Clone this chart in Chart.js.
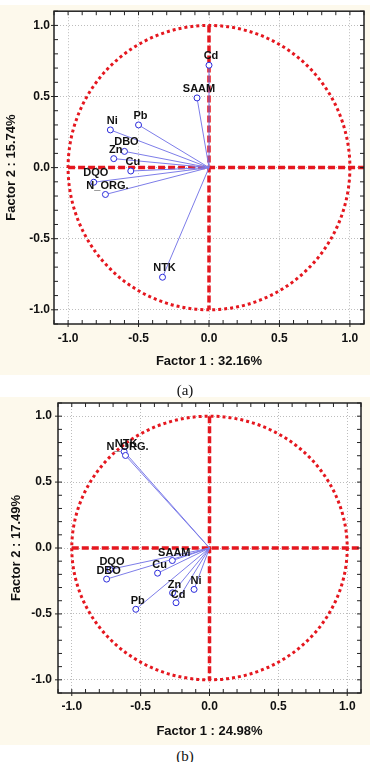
<!DOCTYPE html>
<html>
<head>
<meta charset="utf-8">
<script src="https://cdn.jsdelivr.net/npm/chart.js@4.4.1/dist/chart.umd.min.js"></script>
<style>
    html, body { margin: 0; padding: 0; background: #fff; }
    body { width: 370px; height: 762px; position: relative; overflow: hidden; }
    .panel { position: absolute; left: 0; width: 370px; background: #fdf9ec; }
    canvas { position: absolute; left: 0; }
    .caption {
        position: absolute; left: 0; width: 370px; text-align: center;
        font-family: "Liberation Serif", "Times New Roman", serif; font-size: 15px; color: #111;
    }
</style>
</head>
<body>
<div class="panel" style="top:5px;height:370px"></div>
<div class="panel" style="top:397px;height:348px"></div>
<canvas id="chartA" width="370" height="376" style="top:0"></canvas>
<canvas id="chartB" width="370" height="366" style="top:380px"></canvas>
<div class="caption" style="top:382px">(a)</div>
<div class="caption" style="top:748px">(b)</div>

<script>
// Factor loadings
const varsA = ['Cd', 'SAAM', 'Pb', 'Ni', 'DBO', 'Zn', 'Cu', 'DQO', 'N_ORG.', 'NTK'];
const f1A = [0.00, -0.085, -0.50, -0.70, -0.60, -0.676, -0.555, -0.818, -0.735, -0.33];
const f2A = [0.72, 0.49, 0.30, 0.265, 0.114, 0.063, -0.024, -0.103, -0.189, -0.771];

const varsB = ['NTK', 'N_ORG.', 'SAAM', 'Cu', 'DQO', 'DBO', 'Zn', 'Cd', 'Ni', 'Pb'];
const f1B = [-0.62, -0.61, -0.27, -0.377, -0.723, -0.747, -0.268, -0.243, -0.112, -0.535];
const f2B = [0.732, 0.702, -0.095, -0.191, -0.163, -0.236, -0.34, -0.415, -0.314, -0.465];

const tickValues = [-1.0, -0.5, 0.0, 0.5, 1.0];

const RED = '#e5171f';
const POINT_BLUE = '#2b2bdc';
const LINE_BLUE = '#7d7de9';
const TEXT = '#111';
const FONT = '"Liberation Sans", Arial, sans-serif';

// Circle, axes, frame and labels
const factorPlot = {
    id: 'factorPlot',
    beforeDraw(chart) {
        const { ctx, chartArea: a } = chart;
        ctx.save();
        ctx.fillStyle = '#fff';
        ctx.fillRect(a.left, a.top, a.right - a.left, a.bottom - a.top);
        ctx.restore();
    },
    beforeDatasetsDraw(chart) {
        const { ctx, scales: { x, y } } = chart;
        const cx = x.getPixelForValue(0);
        const cy = y.getPixelForValue(0);
        const rx = x.getPixelForValue(1) - cx;
        const ry = cy - y.getPixelForValue(1);
        ctx.save();
        ctx.strokeStyle = RED;
        ctx.lineWidth = 3;
        ctx.setLineDash([3, 3]);
        ctx.beginPath();
        ctx.ellipse(cx, cy, rx, ry, 0, 0, Math.PI * 2);
        ctx.stroke();

        ctx.lineWidth = 3.5;
        ctx.setLineDash([7, 3]);
        ctx.beginPath();
        ctx.moveTo(x.getPixelForValue(-1), cy);
        ctx.lineTo(x.right, cy);
        ctx.moveTo(cx, y.getPixelForValue(1));
        ctx.lineTo(cx, y.getPixelForValue(-1));
        ctx.stroke();
        ctx.restore();
    },
    afterDatasetsDraw(chart, args, opts) {
        const { ctx } = chart;
        const points = chart.getDatasetMeta(0).data;
        ctx.save();
        ctx.font = 'bold 11px ' + FONT;
        ctx.fillStyle = TEXT;
        ctx.textAlign = 'center';
        ctx.textBaseline = 'middle';
        points.forEach((pt, i) => {
            ctx.fillText(opts.names[i], pt.x + 2, pt.y + opts.labelDy);
        });
        ctx.restore();
    },
    afterDraw(chart) {
        const { ctx, chartArea: a, scales: { x, y } } = chart;
        ctx.save();
        ctx.strokeStyle = '#222';
        ctx.lineWidth = 1.5;
        ctx.strokeRect(a.left, a.top, a.right - a.left, a.bottom - a.top);

        // small inward ticks every 0.1
        ctx.lineWidth = 1;
        ctx.beginPath();
        for (let i = -11; i <= 11; i++) {
            const px = x.getPixelForValue(i / 10);
            const py = y.getPixelForValue(i / 10);
            const major = i % 5 === 0;
            ctx.moveTo(px, a.bottom + (major ? 3 : 0)); ctx.lineTo(px, a.bottom - 4);
            ctx.moveTo(px, a.top); ctx.lineTo(px, a.top + 4);
            ctx.moveTo(a.left - (major ? 3 : 0), py); ctx.lineTo(a.left + 4, py);
            ctx.moveTo(a.right, py); ctx.lineTo(a.right - 4, py);
        }
        ctx.stroke();
        ctx.restore();
    }
};

function makeFactorChart(canvasId, names, f1, f2, cfg) {
    const points = f1.map((v, i) => ({ x: v, y: f2[i] }));
    const vectors = points.map(p => ({
        type: 'line',
        data: [{ x: 0, y: 0 }, p],
        borderColor: LINE_BLUE,
        borderWidth: 1,
        pointRadius: 0,
        fill: false
    }));

    const tickFont = { family: FONT, size: 12, weight: 'bold' };
    const titleFont = { family: FONT, size: 13, weight: 'bold' };
    const setTicks = scale => { scale.ticks = tickValues.map(v => ({ value: v })); };

    return new Chart(document.getElementById(canvasId), {
        type: 'scatter',
        data: {
            datasets: [{
                data: points,
                pointRadius: 3,
                pointHoverRadius: 3,
                pointBackgroundColor: '#fff',
                pointBorderColor: POINT_BLUE,
                pointBorderWidth: 1
            }].concat(vectors)
        },
        options: {
            responsive: false,
            animation: false,
            devicePixelRatio: 1,
            layout: { padding: { top: cfg.padTop, right: cfg.padRight, left: 0, bottom: 0 } },
            plugins: {
                legend: { display: false },
                tooltip: { enabled: false },
                factorPlot: { names: names, labelDy: cfg.labelDy }
            },
            scales: {
                x: {
                    type: 'linear',
                    min: -1.1,
                    max: 1.1,
                    afterBuildTicks: setTicks,
                    afterFit: scale => { scale.height = cfg.xHeight; },
                    ticks: {
                        font: tickFont, color: TEXT, padding: cfg.xTickPad,
                        callback: v => v.toFixed(1)
                    },
                    grid: { color: '#bdbdbd', lineWidth: 1, drawTicks: false },
                    border: { display: false, dash: [1, 2] },
                    title: {
                        display: true, text: cfg.xTitle, font: titleFont, color: TEXT,
                        padding: { top: 0, bottom: cfg.xTitlePad }
                    }
                },
                y: {
                    type: 'linear',
                    min: -1.1,
                    max: 1.1,
                    afterBuildTicks: setTicks,
                    afterFit: scale => { scale.width = cfg.yWidth; },
                    ticks: {
                        font: tickFont, color: TEXT, padding: cfg.yTickPad,
                        callback: v => v.toFixed(1)
                    },
                    grid: { color: '#bdbdbd', lineWidth: 1, drawTicks: false },
                    border: { display: false, dash: [1, 2] },
                    title: {
                        display: true, text: cfg.yTitle, font: titleFont, color: TEXT,
                        padding: { top: cfg.yTitlePad, bottom: 0 }
                    }
                }
            }
        },
        plugins: [factorPlot]
    });
}

makeFactorChart('chartA', varsA, f1A, f2A, {
    padTop: 9, padRight: 6, xHeight: 52, yWidth: 54,
    xTickPad: 7, yTickPad: 4, xTitlePad: 6.5, yTitlePad: 4, labelDy: -9,
    xTitle: 'Factor 1 : 32.16%', yTitle: 'Factor 2 : 15.74%'
});

makeFactorChart('chartB', varsB, f1B, f2B, {
    padTop: 23, padRight: 9, xHeight: 53, yWidth: 58,
    xTickPad: 6, yTickPad: 6, xTitlePad: 7, yTitlePad: 9, labelDy: -8,
    xTitle: 'Factor 1 : 24.98%', yTitle: 'Factor 2 : 17.49%'
});
</script>
</body>
</html>
